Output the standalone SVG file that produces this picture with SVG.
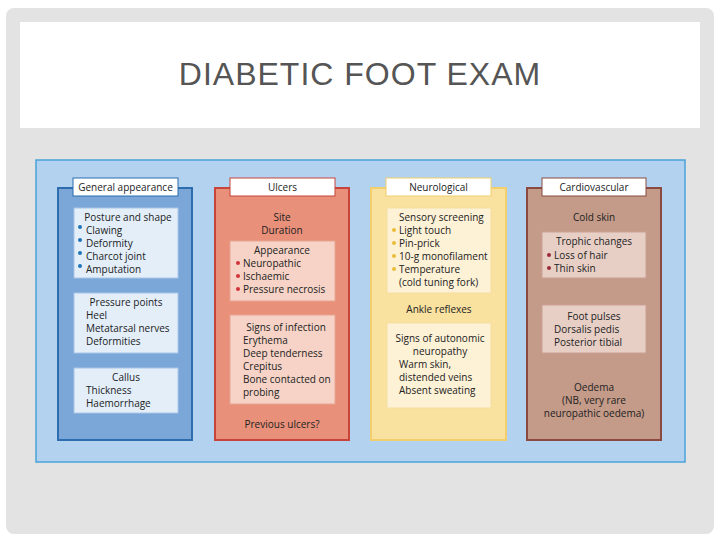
<svg xmlns="http://www.w3.org/2000/svg" width="720" height="540" viewBox="0 0 720 540">
<style>
text{font-family:"Open Sans","DejaVu Sans",sans-serif;font-size:10px;fill:#222}
.c{text-anchor:middle}
.t{font-family:"Liberation Sans",Arial,sans-serif;font-size:32px;fill:#555;letter-spacing:1px}
.hdr{fill:#fff}
.ib1{fill:#e3eef9;stroke:#a9c6e6}
.ib2{fill:#f6d3c6;stroke:#e6a594}
.ib3{fill:#fdf1d6;stroke:#f6dfa0}
.ib4{fill:#e8cfc6;stroke:#c9a194}
</style>
<rect x="0" y="0" width="720" height="540" fill="#ffffff"/>
<rect x="6" y="8" width="708" height="526" rx="8" fill="#e3e3e3"/>
<rect x="20" y="22" width="680" height="106" fill="#ffffff"/>
<text class="t c" x="360" y="85">DIABETIC FOOT EXAM</text>
<rect x="36" y="160" width="649" height="302" fill="#b3d2f0" stroke="#4aa3d8" stroke-width="1.5"/>
<g id="col1">
<rect x="58" y="188" width="134" height="252" fill="#7aa6d8" stroke="#2d6dad" stroke-width="2"/>
<rect class="hdr" x="73" y="178" width="105" height="18" stroke="#2d6dad"/>
<text class="c" x="125.5" y="191">General appearance</text>
<rect class="ib1" x="74" y="208" width="104" height="70"/>
<text class="c" x="128" y="221">Posture and shape</text>
<g fill="#1f73b7"><circle cx="80" cy="227" r="2"/><circle cx="80" cy="240" r="2"/><circle cx="80" cy="253" r="2"/><circle cx="80" cy="266" r="2"/>
<circle cx="80" cy="315" r="2"/><circle cx="80" cy="328" r="2"/><circle cx="80" cy="341" r="2"/><circle cx="80" cy="390" r="2"/><circle cx="80" cy="403" r="2"/></g>
<text x="86" y="234">Clawing</text><text x="86" y="247">Deformity</text><text x="86" y="260">Charcot joint</text><text x="86" y="273">Amputation</text>
<rect class="ib1" x="74" y="293" width="104" height="60"/>
<text class="c" x="126" y="306">Pressure points</text>
<text x="86" y="319">Heel</text><text x="86" y="332">Metatarsal nerves</text><text x="86" y="345">Deformities</text>
<rect class="ib1" x="74" y="368" width="104" height="45"/>
<text class="c" x="126" y="381">Callus</text>
<text x="86" y="394">Thickness</text><text x="86" y="407">Haemorrhage</text>
</g>
<g id="col2">
<rect x="215" y="188" width="134" height="252" fill="#e8907a" stroke="#c8443a" stroke-width="2"/>
<rect class="hdr" x="230" y="178" width="105" height="18" stroke="#c8443a"/>
<text class="c" x="282.5" y="191">Ulcers</text>
<text class="c" x="282" y="221">Site</text><text class="c" x="282" y="234">Duration</text>
<rect class="ib2" x="230" y="241" width="105" height="60"/>
<text class="c" x="282" y="254">Appearance</text>
<g fill="#d2323a"><circle cx="238" cy="263" r="2"/><circle cx="238" cy="276" r="2"/><circle cx="238" cy="289" r="2"/>
<circle cx="238" cy="340" r="2"/><circle cx="238" cy="353" r="2"/><circle cx="238" cy="366" r="2"/><circle cx="238" cy="379" r="2"/></g>
<text x="243" y="267">Neuropathic</text><text x="243" y="280">Ischaemic</text><text x="243" y="293">Pressure necrosis</text>
<rect class="ib2" x="230" y="315" width="105" height="89"/>
<text class="c" x="286" y="331">Signs of infection</text>
<text x="243" y="344">Erythema</text><text x="243" y="357">Deep tenderness</text><text x="243" y="370">Crepitus</text><text x="243" y="383">Bone contacted on</text><text x="243" y="396">probing</text>
<text class="c" x="282" y="428">Previous ulcers?</text>
</g>
<g id="col3">
<rect x="371" y="188" width="135" height="252" fill="#f9e19f" stroke="#f2cf6c" stroke-width="2"/>
<rect class="hdr" x="386" y="178" width="105" height="18" stroke="#f2cf6c"/>
<text class="c" x="438.5" y="191">Neurological</text>
<rect class="ib3" x="387" y="208" width="104" height="85"/>
<text x="399" y="221">Sensory screening</text>
<g fill="#e9bd3a"><circle cx="394" cy="230" r="2"/><circle cx="394" cy="243" r="2"/><circle cx="394" cy="256" r="2"/><circle cx="394" cy="269" r="2"/><circle cx="394" cy="364" r="2"/><circle cx="394" cy="390" r="2"/></g>
<text x="399" y="234">Light touch</text><text x="399" y="247">Pin-prick</text><text x="399" y="260">10-g monofilament</text><text x="399" y="273">Temperature</text><text x="399" y="286">(cold tuning fork)</text>
<text class="c" x="439" y="313">Ankle reflexes</text>
<rect class="ib3" x="387" y="323" width="104" height="85"/>
<text class="c" x="440" y="342">Signs of autonomic</text><text class="c" x="440" y="355">neuropathy</text>
<text x="399" y="368">Warm skin,</text><text x="399" y="381">distended veins</text><text x="399" y="394">Absent sweating</text>
</g>
<g id="col4">
<rect x="527" y="188" width="134" height="252" fill="#c49a88" stroke="#8a4a40" stroke-width="2"/>
<rect class="hdr" x="542" y="178" width="104" height="18" stroke="#8a4a40"/>
<text class="c" x="594" y="191">Cardiovascular</text>
<text class="c" x="594" y="221">Cold skin</text>
<rect class="ib4" x="542" y="232" width="104" height="46"/>
<text class="c" x="594" y="245">Trophic changes</text>
<g fill="#9a2a3a"><circle cx="549" cy="255" r="2"/><circle cx="549" cy="268" r="2"/><circle cx="549" cy="329" r="2"/><circle cx="549" cy="342" r="2"/></g>
<text x="554" y="259">Loss of hair</text><text x="554" y="272">Thin skin</text>
<rect class="ib4" x="542" y="305" width="104" height="48"/>
<text class="c" x="594" y="320">Foot pulses</text>
<text x="554" y="333">Dorsalis pedis</text><text x="554" y="346">Posterior tibial</text>
<text class="c" x="594" y="391">Oedema</text><text class="c" x="594" y="404">(NB, very rare</text><text class="c" x="594" y="417">neuropathic oedema)</text>
</g>
<g id="connectors"/>
</svg>
